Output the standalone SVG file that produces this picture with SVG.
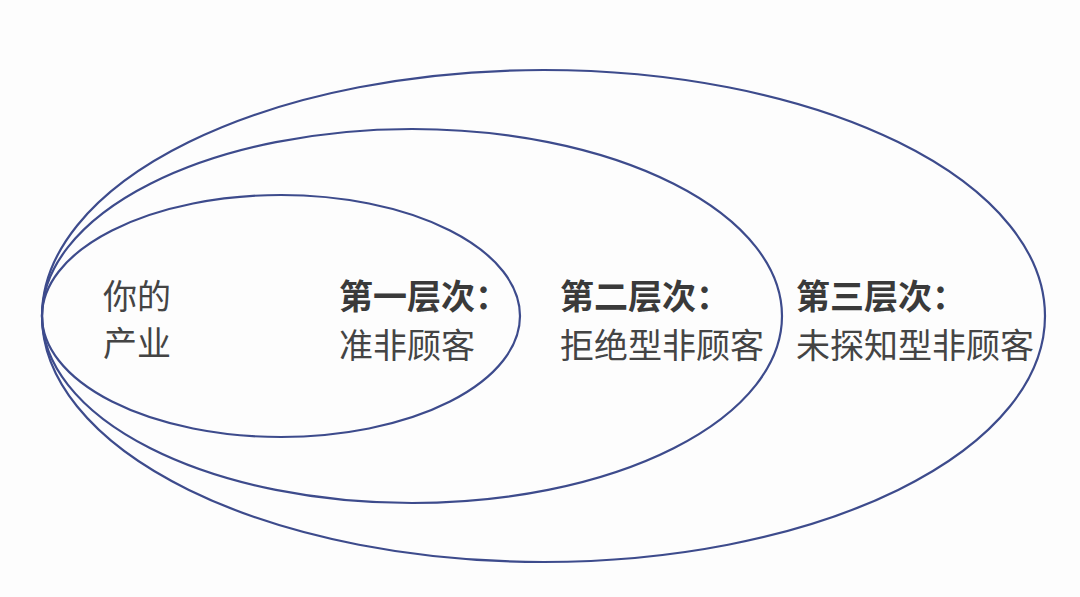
<svg xmlns="http://www.w3.org/2000/svg" width="1080" height="597" viewBox="0 0 1080 597">
<style>
.ring{fill:none;stroke:#3d4b8c;stroke-width:2.2}
text{font-family:"Noto Sans CJK SC","Noto Sans",sans-serif;font-size:34px;fill:#333}
.b{font-weight:bold;fill:#3a3a3a}
.r{fill:#444}
</style>
<rect width="1080" height="597" fill="#fdfdfd"/>
<g id="connectors"/>
<g id="outer">
<ellipse class="ring" cx="543.5" cy="316" rx="501.5" ry="246"/>
<text class="b" x="796" y="309">第三层次：</text>
<text class="r" x="796" y="358">未探知型非顾客</text>
</g>
<g id="middle">
<ellipse class="ring" cx="412" cy="316" rx="370" ry="187"/>
<text class="b" x="560" y="309">第二层次：</text>
<text class="r" x="560" y="358">拒绝型非顾客</text>
</g>
<g id="inner">
<ellipse class="ring" cx="281" cy="316" rx="239" ry="121"/>
<text class="b" x="339" y="309">第一层次：</text>
<text class="r" x="339" y="358">准非顾客</text>
</g>
<g id="industry">
<text class="r" x="103" y="309">你的</text>
<text class="r" x="103" y="356">产业</text>
</g>
</svg>
